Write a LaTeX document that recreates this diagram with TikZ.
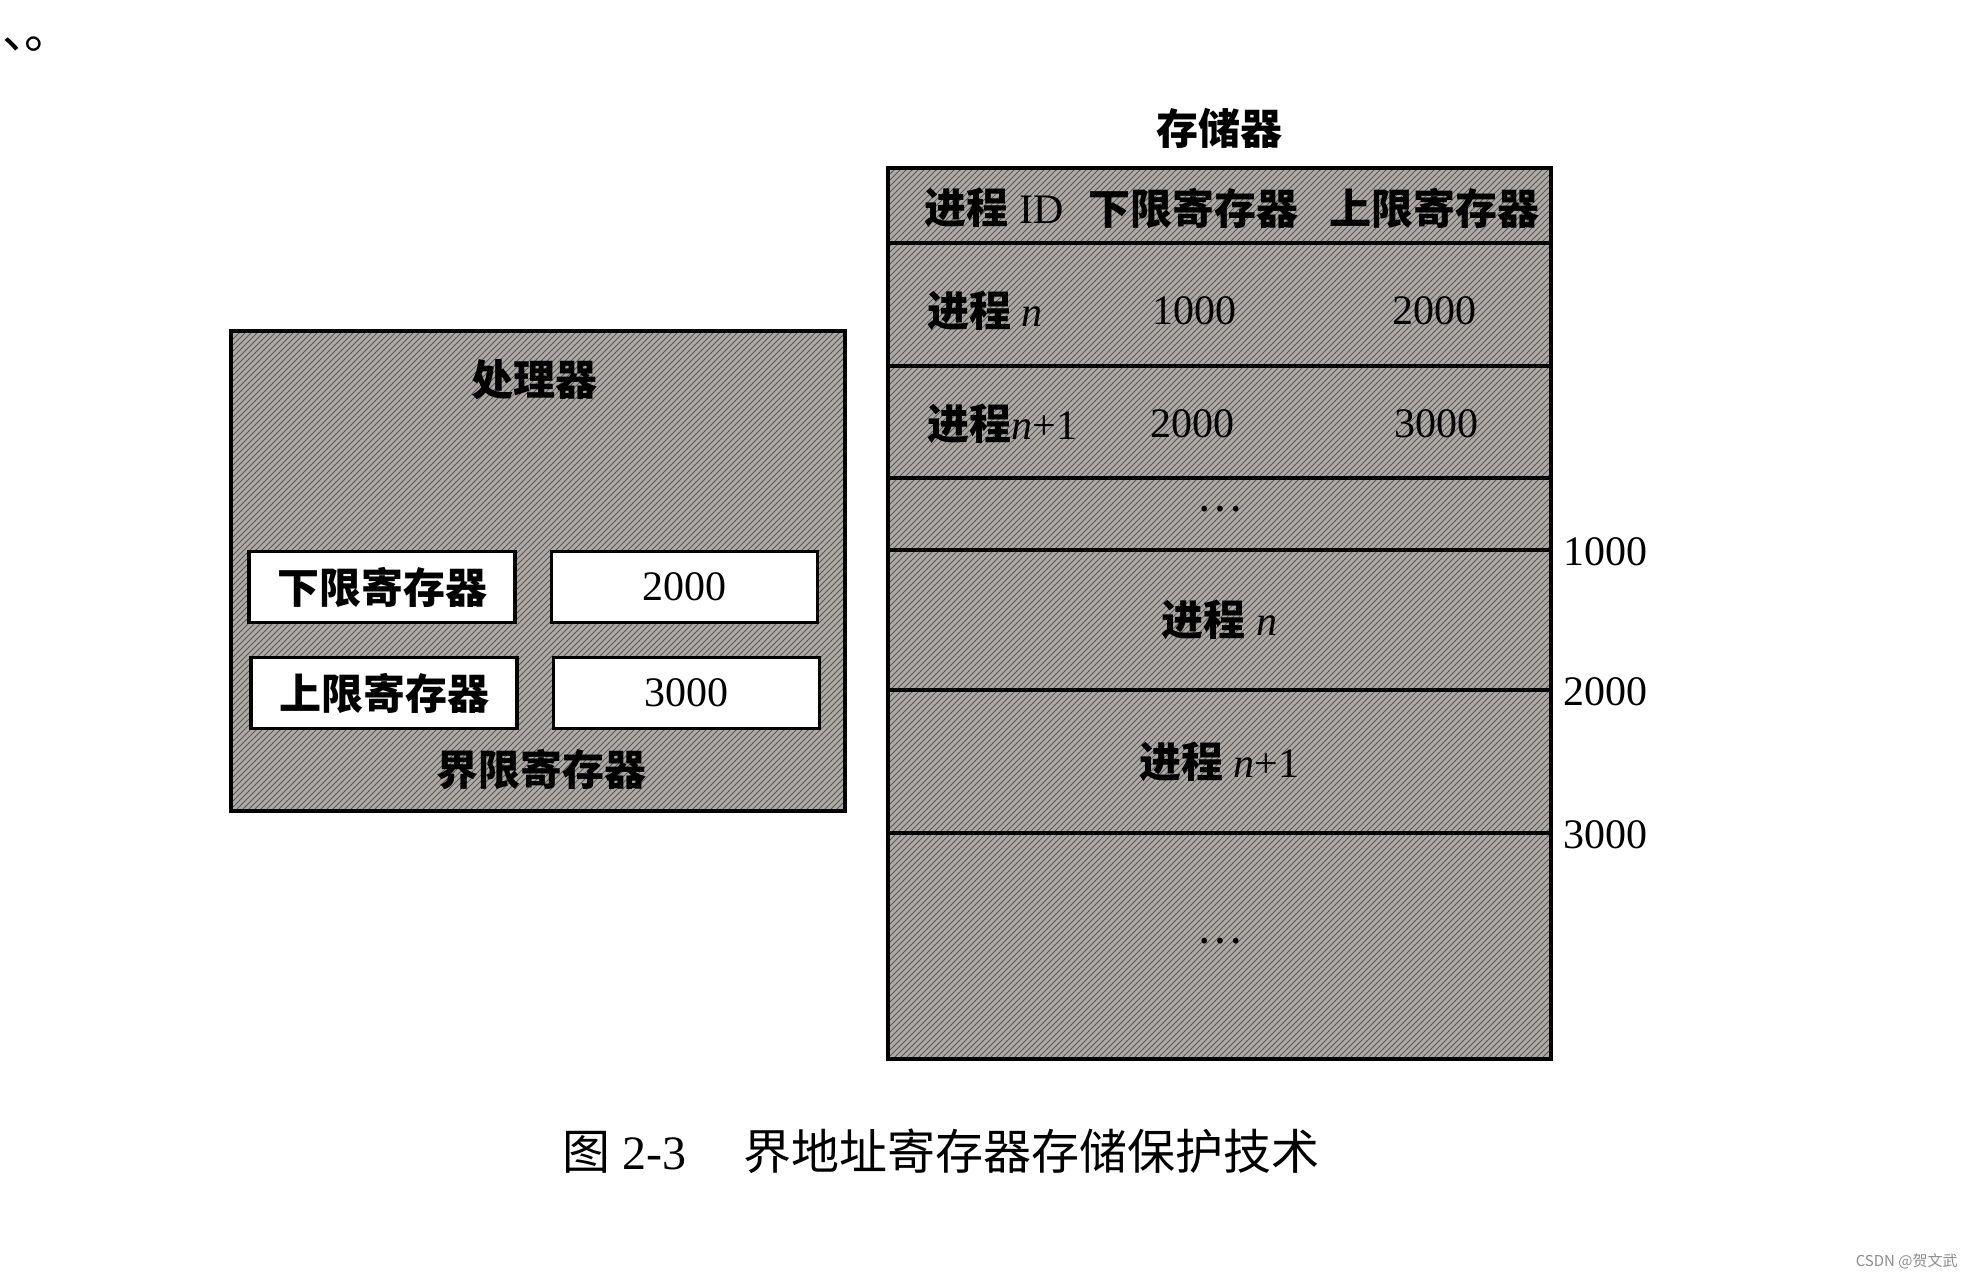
\documentclass[tikz,border=0pt]{standalone}
\usepackage{fontspec}
\setmainfont{Liberation Serif}
\newfontfamily\cjk{Noto Sans CJK SC}
\usepackage{tikz}
\usetikzlibrary{positioning, patterns}
\definecolor{shadegray}{RGB}{174,171,167}
\definecolor{hatchline}{RGB}{88,88,88}
\definecolor{markgray}{RGB}{140,140,140}
\tikzset{
  regbox/.style = {
    rectangle, draw=black, line width=1.8pt, fill=white,
    minimum width=133pt, minimum height=35.5pt, inner sep=0pt
  },
  hatched/.style = {
    rectangle, draw=black, line width=1.8pt,
    preaction={fill=shadegray},
    pattern=north east lines, pattern color=hatchline,
    inner sep=0pt
  },
  memrow/.style = {hatched, minimum width=331.5pt}
}

\begin{document}
\begin{tikzpicture}[
  x=0.5pt, y=-0.5pt,
  every node/.style={font=\fontsize{21pt}{25pt}\selectfont, inner sep=0pt},
  cell/.style={anchor=center},
  addr/.style={anchor=west}
]
\useasboundingbox[fill=white] (0,0) rectangle (1972,1280);

%% ── Fragment of the line above ───────────────────────
\node[anchor=base west, font=\fontsize{24pt}{28pt}\selectfont]
  (mark) at (2,48) {\cjk 、\kern-0.55em 。};

%% ── Processor ────────────────────────────────────────
\node[hatched, minimum width=307pt, minimum height=240pt]
  (cpu) at (538,571) {};
\node[cell] (cputitle) at (534,380) {\cjk\bfseries 处理器};

\node[regbox] (lowreg) at (382,587) {\cjk\bfseries 下限寄存器};
\node[regbox, right=16.5pt of lowreg] (lowval) {2000};

\node[regbox] (highreg) at (384,693) {\cjk\bfseries 上限寄存器};
\node[regbox, right=16.5pt of highreg] (highval) {3000};

\node[cell] (boundlbl) at (541,770) {\cjk\bfseries 界限寄存器};

%% ── Memory table ─────────────────────────────────────
\node[memrow, minimum height=37.5pt] (rowhead)  at (1219.5,205.5) {};
\node[memrow, minimum height=61.5pt] (rown)     at (1219.5,304.5) {};
\node[memrow, minimum height=56pt]   (rownn)    at (1219.5,422) {};
\node[memrow, minimum height=36pt]   (rowdots)  at (1219.5,514)
  {\raisebox{0.25em}{\cjk …}};
\node[memrow, minimum height=70pt]   (procn)    at (1219.5,620)
  {{\cjk\bfseries 进程} \textit{n}};
\node[memrow, minimum height=71.5pt] (procnn)   at (1219.5,761.5)
  {{\cjk\bfseries 进程} \textit{n}+1};
\node[memrow, minimum height=113pt]  (rowrest)  at (1219.5,946)
  {\raisebox{0.25em}{\cjk …}};

\node[above=8.5pt of rowhead] (memtitle) {\cjk\bfseries 存储器};

%% ── Table header ─────────────────────────────────────
\node[cell] (hid)  at (994,208)  {{\cjk\bfseries 进程} ID};
\node[cell] (hlow) at (1193,208) {\cjk\bfseries 下限寄存器};
\node[cell] (hhigh) at (1434,208) {\cjk\bfseries 上限寄存器};

%% ── Table rows ───────────────────────────────────────
\node[addr] (idn)   at (927,311)  {{\cjk\bfseries 进程} \textit{n}};
\node[cell] (lown)  at (1194,311) {1000};
\node[cell] (highn) at (1434,311) {2000};

\node[addr] (idnn)   at (927,424)  {{\cjk\bfseries 进程}\textit{n}+1};
\node[cell] (lownn)  at (1192,424) {2000};
\node[cell] (highnn) at (1436,424) {3000};

%% ── Addresses ────────────────────────────────────────
\node[right=5pt of rowdots.south east] (a1) {1000};
\node[right=5pt of procn.south east]   (a2) {2000};
\node[right=5pt of procnn.south east]  (a3) {3000};

%% ── Caption ──────────────────────────────────────────
\node[font=\fontsize{24pt}{28pt}\selectfont] (caption) at (941,1151)
  {{\cjk 图} 2-3\hspace{1.2em}{\cjk 界地址寄存器存储保护技术}};

\node[anchor=east, font=\fontsize{7.5pt}{9pt}\selectfont, text=markgray]
  (wm) at (1958,1261) {\cjk CSDN @贺文武};

\end{tikzpicture}
\end{document}
